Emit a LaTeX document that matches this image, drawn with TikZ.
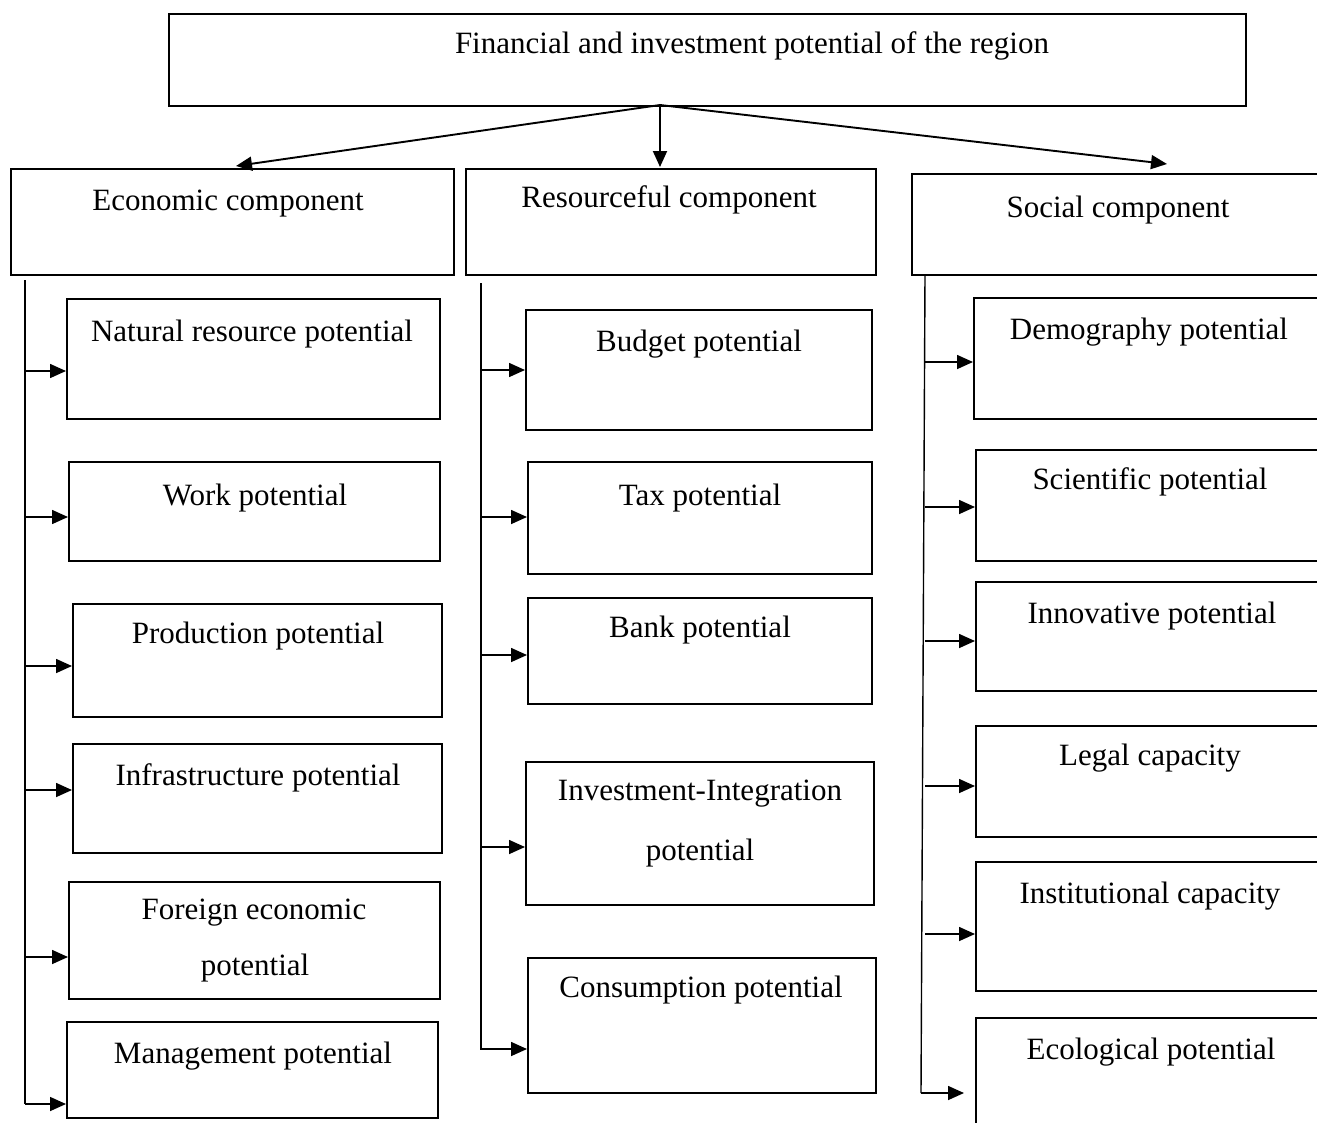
\documentclass[tikz,border=0pt]{standalone}
\usepackage{fontspec}
\setmainfont{Liberation Serif}
\usetikzlibrary{arrows.meta,calc}
\begin{document}
\begin{tikzpicture}[x=1pt,y=-1pt,
  box/.style={draw,line width=1.7pt,rectangle,inner sep=0pt,anchor=north west},
  lbl/.style={inner sep=0pt,font=\fontsize{31}{37}\selectfont,text height=20.5pt,text depth=0pt},
  toparr/.style={line width=1.9pt,-{Triangle[length=16pt,width=14pt]}},
  rowarr/.style={line width=1.6pt,-{Triangle[length=16pt,width=14pt]}},
  trunk/.style={line width=1.4pt}]
\clip (0,0) rectangle (1317,1122);
\newcommand\mkbox[5]{\node[box,minimum width={(#4)-(#2)},minimum height={(#5)-(#3)}] (#1) at (#2,#3) {};}
% top and components
\mkbox{top}{168}{13}{1245}{105}
\mkbox{eco}{10}{168}{453}{274}
\mkbox{res}{465}{168}{875}{274}
\mkbox{soc}{911}{173}{1345}{274}
% economic column
\mkbox{e1}{66}{298}{439}{418}
\mkbox{e2}{68}{461}{439}{560}
\mkbox{e3}{72}{603}{441}{716}
\mkbox{e4}{72}{743}{441}{852}
\mkbox{e5}{68}{881}{439}{998}
\mkbox{e6}{66}{1021}{437}{1117}
% resourceful column
\mkbox{r1}{525}{309}{871}{429}
\mkbox{r2}{527}{461}{871}{573}
\mkbox{r3}{527}{597}{871}{703}
\mkbox{r4}{525}{761}{873}{904}
\mkbox{r5}{527}{957}{875}{1092}
% social column
\mkbox{s1}{973}{297}{1345}{418}
\mkbox{s2}{975}{449}{1345}{560}
\mkbox{s3}{975}{581}{1345}{690}
\mkbox{s4}{975}{725}{1345}{836}
\mkbox{s5}{975}{861}{1345}{990}
\mkbox{s6}{975}{1017}{1345}{1150}
% labels
\node[lbl] (ttop) at (752,43) {Financial and investment potential of the region};
\node[lbl] (teco) at (228,200) {Economic component};
\node[lbl] (tres) at (669,197) {Resourceful component};
\node[lbl] (tsoc) at (1118,207) {Social component};
\node[lbl] (te1) at (252,331) {Natural resource potential};
\node[lbl] (te2) at (255,495) {Work potential};
\node[lbl] (te3) at (258,633) {Production potential};
\node[lbl] (te4) at (258,775) {Infrastructure potential};
\node[lbl] (te5a) at (254,909) {Foreign economic};
\node[lbl] (te5b) at (255,965) {potential};
\node[lbl] (te6) at (253,1053) {Management potential};
\node[lbl] (tr1) at (699,341) {Budget potential};
\node[lbl] (tr2) at (700,495) {Tax potential};
\node[lbl] (tr3) at (700,627) {Bank potential};
\node[lbl] (tr4a) at (700,790) {Investment-Integration};
\node[lbl] (tr4b) at (700,850) {potential};
\node[lbl] (tr5) at (701,987) {Consumption potential};
\node[lbl] (ts1) at (1149,329) {Demography potential};
\node[lbl] (ts2) at (1150,479) {Scientific potential};
\node[lbl] (ts3) at (1152,613) {Innovative potential};
\node[lbl] (ts4) at (1150,755) {Legal capacity};
\node[lbl] (ts5) at (1150,893) {Institutional capacity};
\node[lbl] (ts6) at (1151,1049) {Ecological potential};
% top arrows
\coordinate (hub) at (660,105);
\coordinate (tipE) at (236,166);
\coordinate (tipR) at (660,167);
\coordinate (tipS) at (1167,164);
\draw[toparr] (hub) -- (tipE);
\draw[toparr] (hub) -- (tipR);
\draw[toparr] (hub) -- (tipS);
% economic trunk
\coordinate (eT) at (25,280);
\coordinate (eB) at (25,1104);
\draw[trunk] (eT) -- (eB);
\foreach \b/\y in {e1/371,e2/517,e3/666,e4/790,e5/957,e6/1104}{
  \coordinate (a\b) at (25,\y);
  \draw[rowarr] (a\b) -- (\b.west |- a\b);
}
% resourceful trunk
\coordinate (rT) at (481,283);
\coordinate (rB) at (481,1050);
\draw[trunk] (rT) -- (rB);
\foreach \b/\y in {r1/370,r2/517,r3/655,r4/847,r5/1049}{
  \coordinate (a\b) at (481,\y);
  \draw[rowarr] (a\b) -- (\b.west |- a\b);
}
% social trunk
\coordinate (sT) at (925,274);
\coordinate (sB) at (921,1093);
\draw[trunk] (sT) -- (sB);
\foreach \b/\y in {s1/362,s2/507,s3/641,s4/786,s5/934}{
  \coordinate (a\b) at (925,\y);
  \draw[rowarr] (a\b) -- (\b.west |- a\b);
}
\coordinate (as6) at (921,1093);
\coordinate (es6) at (964,1093);
\draw[rowarr] (as6) -- (es6);
\end{tikzpicture}
\end{document}
